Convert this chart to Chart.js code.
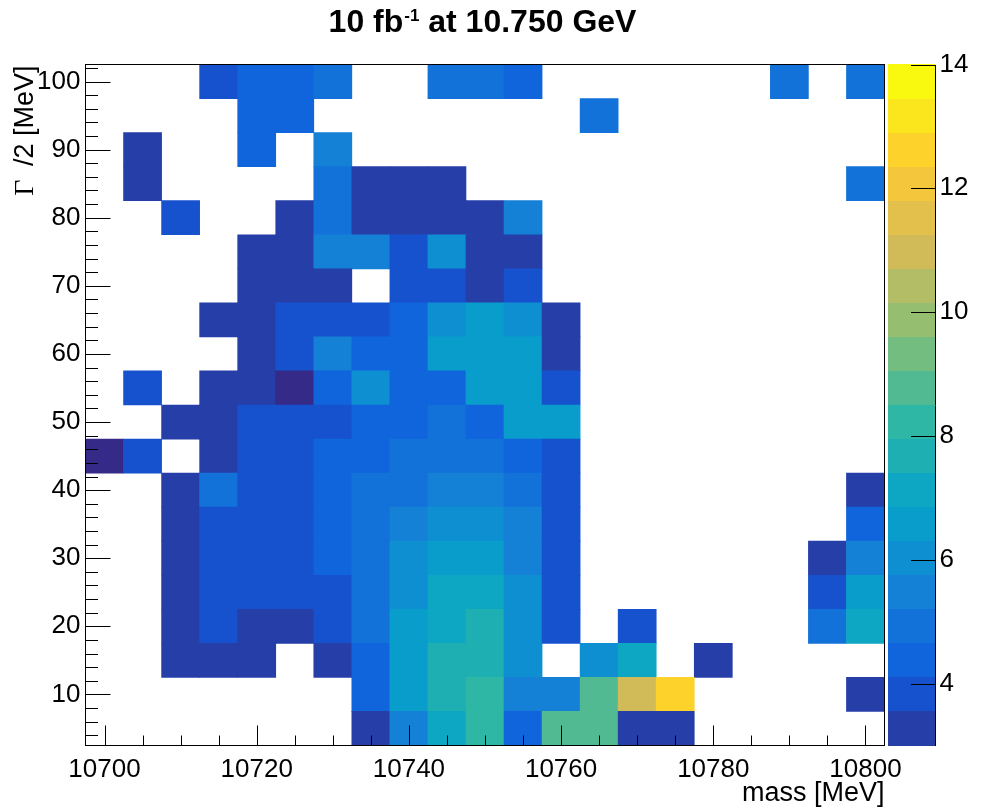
<!DOCTYPE html>
<html>
<head>
<meta charset="utf-8">
<title>10 fb-1 at 10.750 GeV</title>
<script src="https://cdn.jsdelivr.net/npm/chart.js@4/dist/chart.umd.min.js"></script>
<style>
html, body { margin: 0; padding: 0; background: #ffffff; }
canvas { display: block; }
</style>
</head>
<body>
<canvas id="chart" width="986" height="810"></canvas>
<script>
// ---------------- data ----------------
const _ = null;
// bin centres of the mass axis [MeV]
const massBins = [10700, 10705, 10710, 10715, 10720, 10725, 10730, 10735, 10740, 10745, 10750,
                  10755, 10760, 10765, 10770, 10775, 10780, 10785, 10790, 10795, 10800];
// bin centres of the Gamma/2 axis [MeV]
const gammaBins = [5, 10, 15, 20, 25, 30, 35, 40, 45, 50, 55, 60, 65, 70, 75, 80, 85, 90, 95, 100];
const massTicks = [10700, 10720, 10740, 10760, 10780, 10800];
const gammaTicks = [10, 20, 30, 40, 50, 60, 70, 80, 90, 100];
const zTicks = [4, 6, 8, 10, 12, 14];
const zRange = [3, 14];
const nContours = 20;
// cell contents, one row per Gamma/2 bin (bottom to top), one entry per mass bin
const counts = [
  /*   5 */ [_,_,_,_,_,_,_,3.3,5.5,7.1,8.2,4.4,8.8,8.8,3.3,3.3,_,_,_,_,_],
  /*  10 */ [_,_,_,_,_,_,_,4.4,6.6,7.7,8.2,5.5,5.5,8.8,11.0,12.6,_,_,_,_,3.3],
  /*  15 */ [_,_,3.3,3.3,3.3,_,3.3,4.4,6.6,7.7,7.7,6.0,_,6.0,7.1,_,3.3,_,_,_,_],
  /*  20 */ [_,_,3.3,3.8,3.3,3.3,3.8,4.9,6.6,7.1,7.7,6.0,3.8,_,3.8,_,_,_,_,4.9,7.1],
  /*  25 */ [_,_,3.3,3.8,3.8,3.8,3.8,4.9,6.0,7.1,7.1,6.0,3.8,_,_,_,_,_,_,3.8,6.6],
  /*  30 */ [_,_,3.3,3.8,3.8,3.8,4.4,4.9,6.0,6.6,6.6,5.5,3.8,_,_,_,_,_,_,3.3,5.5],
  /*  35 */ [_,_,3.3,3.8,3.8,3.8,4.4,4.9,5.5,6.0,6.0,5.5,3.8,_,_,_,_,_,_,_,4.4],
  /*  40 */ [_,_,3.3,4.9,3.8,3.8,4.4,4.9,4.9,5.5,5.5,4.9,3.8,_,_,_,_,_,_,_,3.3],
  /*  45 */ [2.5,3.8,_,3.3,3.8,3.8,4.4,4.4,4.9,4.9,4.9,4.4,3.8,_,_,_,_,_,_,_,_],
  /*  50 */ [_,_,3.3,3.3,3.8,3.8,3.8,4.4,4.4,4.9,4.4,6.6,6.6,_,_,_,_,_,_,_,_],
  /*  55 */ [_,3.8,_,3.3,3.3,2.5,4.4,6.0,4.4,4.4,6.6,6.6,3.8,_,_,_,_,_,_,_,_],
  /*  60 */ [_,_,_,_,3.3,3.8,5.5,4.4,4.4,6.6,6.6,6.6,3.3,_,_,_,_,_,_,_,_],
  /*  65 */ [_,_,_,3.3,3.3,3.8,3.8,3.8,4.4,6.0,6.6,6.0,3.3,_,_,_,_,_,_,_,_],
  /*  70 */ [_,_,_,_,3.3,3.3,3.3,_,3.8,3.8,3.3,3.8,_,_,_,_,_,_,_,_,_],
  /*  75 */ [_,_,_,_,3.3,3.3,5.5,5.5,3.8,6.0,3.3,3.3,_,_,_,_,_,_,_,_,_],
  /*  80 */ [_,_,3.8,_,_,3.3,4.9,3.3,3.3,3.3,3.3,5.5,_,_,_,_,_,_,_,_,_],
  /*  85 */ [_,3.3,_,_,_,_,4.9,3.3,3.3,3.3,_,_,_,_,_,_,_,_,_,_,4.9],
  /*  90 */ [_,3.3,_,_,4.4,_,5.5,_,_,_,_,_,_,_,_,_,_,_,_,_,_],
  /*  95 */ [_,_,_,_,4.4,4.4,_,_,_,_,_,_,_,4.9,_,_,_,_,_,_,_],
  /* 100 */ [_,_,_,3.8,4.4,4.4,4.9,_,_,4.9,4.9,4.4,_,_,_,_,_,_,4.9,_,4.9]
];
const titleParts = ['10 fb', '-1', ' at 10.750 GeV'];
const xTitle = 'mass [MeV]';
const yTitleGreek = '\u0393';
const yTitleRest = ' /2 [MeV]';

// ---------------- palette (ROOT kBird) ----------------
const BIRD = {
  stops: [0.0, 0.125, 0.25, 0.375, 0.5, 0.625, 0.75, 0.875, 1.0],
  r: [0.2082, 0.0592, 0.0780, 0.0232, 0.1802, 0.5301, 0.8186, 0.9956, 0.9764],
  g: [0.1664, 0.3599, 0.5041, 0.6419, 0.7178, 0.7492, 0.7328, 0.7862, 0.9832],
  b: [0.5293, 0.8684, 0.8385, 0.7914, 0.6425, 0.4662, 0.3499, 0.1968, 0.0539]
};
const NCOL = 255;
const palette = (() => {
  const out = [];
  const s = BIRD.stops;
  for (let k = 1; k < s.length; k++) {
    const n = Math.floor(NCOL * s[k]) - Math.floor(NCOL * s[k - 1]);
    for (let c = 0; c < n; c++) {
      const f = c / n;
      const r = BIRD.r[k - 1] + f * (BIRD.r[k] - BIRD.r[k - 1]);
      const g = BIRD.g[k - 1] + f * (BIRD.g[k] - BIRD.g[k - 1]);
      const b = BIRD.b[k - 1] + f * (BIRD.b[k] - BIRD.b[k - 1]);
      out.push(`rgb(${Math.round(r * 255)},${Math.round(g * 255)},${Math.round(b * 255)})`);
    }
  }
  return out;
})();
const dz = (zRange[1] - zRange[0]) / nContours;
function contourColor(level) {
  const idx = Math.min(NCOL - 1, Math.max(0, Math.floor((level + 0.99) * NCOL / nContours)));
  return palette[idx];
}
function valueColor(v) {
  if (v < zRange[0]) return palette[0];
  const level = Math.min(nContours - 1, Math.floor((v - zRange[0]) / dz));
  return contourColor(level);
}

// ---------------- datasets ----------------
const mHalf = (massBins[1] - massBins[0]) / 2;
const gHalf = (gammaBins[1] - gammaBins[0]) / 2;
const datasets = gammaBins.map((g, r) => ({
  label: 'Gamma/2 = ' + g,
  xAxisID: 'x',
  yAxisID: 'y',
  grouped: false,
  categoryPercentage: 1,
  barPercentage: 1,
  borderWidth: 0,
  borderSkipped: false,
  data: massBins
    .map((m, j) => counts[r][j] === null ? null : { x: m, y: [g - gHalf, g + gHalf], v: counts[r][j] })
    .filter(d => d !== null),
  backgroundColor: c => (c.raw && c.raw.v !== undefined) ? valueColor(c.raw.v) : 'rgba(0,0,0,0)'
}));

// ---------------- layout / style constants ----------------
const SANS = '"Liberation Sans", Arial, Helvetica, sans-serif';
const SERIF = '"Liberation Serif", "Times New Roman", serif';
const FONT_PX = 26;
const TITLE_PX = 27;
const FRAME = { left: 85.5, rightGap: 101.5, top: 64.5, bottomGap: 64.5 };

const decor = {
  id: 'rootDecor',
  afterDatasetsDraw(chart) {
    const { ctx, chartArea: a, scales } = chart;
    const xs = scales.x, ys = scales.y;
    ctx.save();
    ctx.strokeStyle = '#000';
    ctx.lineWidth = 1;
    // frame
    ctx.strokeRect(a.left, a.top, a.right - a.left, a.bottom - a.top);
    ctx.beginPath();
    // x ticks (major + 4 minor divisions)
    const xStep = massTicks[1] - massTicks[0];
    const xDiv = 4;
    for (let i = -xDiv; i <= (massTicks.length - 1) * xDiv + xDiv; i++) {
      const v = massTicks[0] + i * xStep / xDiv;
      if (v < xs.min || v > xs.max) continue;
      const px = Math.round(xs.getPixelForValue(v)) + 0.5;
      const len = (i % xDiv === 0) ? 20 : 10;
      ctx.moveTo(px, a.bottom);
      ctx.lineTo(px, a.bottom - len);
    }
    // y ticks (major + 5 minor divisions)
    const yStep = gammaTicks[1] - gammaTicks[0];
    const yDiv = 5;
    for (let i = -yDiv; i <= (gammaTicks.length - 1) * yDiv + yDiv; i++) {
      const v = gammaTicks[0] + i * yStep / yDiv;
      if (v < ys.min || v > ys.max) continue;
      const py = Math.round(ys.getPixelForValue(v)) + 0.5;
      const len = (i % yDiv === 0) ? 25 : 12.5;
      ctx.moveTo(a.left, py);
      ctx.lineTo(a.left + len, py);
    }
    ctx.stroke();
    ctx.restore();
  },
  afterDraw(chart) {
    const { ctx, chartArea: a, scales } = chart;
    const zs = scales.z;
    ctx.save();
    // colour bar
    const bl = Math.round(a.right) + 3, br = Math.round(a.right) + 50;
    for (let i = 0; i < nContours; i++) {
      const lo = zRange[0] + i * dz, hi = lo + dz;
      const y0 = Math.round(zs.getPixelForValue(lo));
      const y1 = Math.round(zs.getPixelForValue(hi));
      ctx.fillStyle = contourColor(i);
      ctx.fillRect(bl, y1, br - bl, y0 - y1);
    }
    ctx.strokeStyle = '#000';
    ctx.lineWidth = 1;
    ctx.beginPath();
    ctx.moveTo(br + 0.5, Math.round(zs.getPixelForValue(zRange[0])));
    ctx.lineTo(br + 0.5, Math.round(zs.getPixelForValue(zRange[1])));
    for (const t of zTicks) {
      const py = Math.round(zs.getPixelForValue(t)) + 0.5;
      ctx.moveTo(br + 0.5, py);
      ctx.lineTo(br - 24, py);
    }
    ctx.stroke();

    ctx.fillStyle = '#000';
    // main title with superscript
    ctx.textBaseline = 'alphabetic';
    ctx.textAlign = 'left';
    const fBig = 'bold 32px ' + SANS, fSup = 'bold 17px ' + SANS;
    ctx.font = fBig;
    const w1 = ctx.measureText(titleParts[0]).width;
    const w3 = ctx.measureText(titleParts[2]).width;
    ctx.font = fSup;
    const w2 = ctx.measureText(titleParts[1]).width;
    let tx = 482 - (w1 + w2 + w3) / 2;
    const base = 32;
    ctx.font = fBig;
    ctx.fillText(titleParts[0], tx, base);
    tx += w1;
    ctx.font = fSup;
    ctx.fillText(titleParts[1], tx + 1, base - 11);
    tx += w2 + 1;
    ctx.font = fBig;
    ctx.fillText(titleParts[2], tx, base);

    // x axis title (right aligned at frame end)
    ctx.font = TITLE_PX + 'px ' + SANS;
    ctx.textAlign = 'right';
    ctx.fillText(xTitle, a.right, 801);

    // y axis title (rotated, aligned to top of the frame)
    ctx.save();
    ctx.translate(33, a.top + 1);
    ctx.rotate(-Math.PI / 2);
    ctx.textAlign = 'right';
    ctx.font = TITLE_PX + 'px ' + SANS;
    const wr = ctx.measureText(yTitleRest).width;
    ctx.fillText(yTitleRest, 0, 0);
    ctx.font = (TITLE_PX + 1) + 'px ' + SERIF;
    ctx.fillText(yTitleGreek, -wr - 6, 0);
    ctx.restore();

    ctx.restore();
  }
};

const tickFont = { family: SANS, size: FONT_PX };
const noVPad = s => { s.paddingTop = 0; s.paddingBottom = 0; };

new Chart(document.getElementById('chart'), {
  type: 'bar',
  data: { datasets },
  options: {
    responsive: false,
    devicePixelRatio: 1,
    animation: false,
    events: [],
    layout: { padding: { top: FRAME.top, left: 0, right: 0, bottom: 0 } },
    plugins: {
      legend: { display: false },
      tooltip: { enabled: false },
      title: { display: false }
    },
    scales: {
      x: {
        type: 'linear',
        position: 'bottom',
        offset: false,
        min: massBins[0] - mHalf,
        max: massBins[massBins.length - 1] + mHalf,
        grid: { display: false, drawTicks: false, offset: false },
        border: { display: false },
        ticks: {
          font: tickFont, color: '#000', padding: 9,
          autoSkip: false, maxRotation: 0, minRotation: 0,
          callback: v => String(v)
        },
        afterBuildTicks: s => { s.ticks = massTicks.map(v => ({ value: v })); },
        afterFit: s => { s.height = FRAME.bottomGap; s.paddingLeft = 0; s.paddingRight = 0; }
      },
      y: {
        type: 'linear',
        position: 'left',
        offset: false,
        min: gammaBins[0] - gHalf,
        max: gammaBins[gammaBins.length - 1] + gHalf,
        grid: { display: false, drawTicks: false },
        border: { display: false },
        ticks: { font: tickFont, color: '#000', padding: 5, autoSkip: false, callback: v => String(v) },
        afterBuildTicks: s => { s.ticks = gammaTicks.map(v => ({ value: v })); },
        afterFit: s => { s.width = FRAME.left; noVPad(s); }
      },
      z: {
        type: 'linear',
        axis: 'y',
        position: 'right',
        offset: false,
        min: zRange[0],
        max: zRange[1],
        grid: { display: false, drawTicks: false },
        border: { display: false },
        ticks: { font: tickFont, color: '#000', padding: 55, autoSkip: false, callback: v => String(v) },
        afterBuildTicks: s => { s.ticks = zTicks.map(v => ({ value: v })); },
        afterFit: s => { s.width = FRAME.rightGap; noVPad(s); }
      }
    }
  },
  plugins: [decor]
});
</script>
</body>
</html>
